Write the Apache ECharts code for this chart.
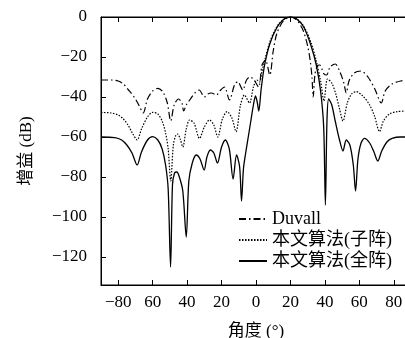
<!DOCTYPE html>
<html><head><meta charset="utf-8">
<script src="https://cdn.jsdelivr.net/npm/echarts@6/dist/echarts.min.js"></script>
<style>html,body{margin:0;padding:0;background:#fff}#c{width:405px;height:338px}</style>
</head><body><div id="c"></div>
<script>
const xTicks = [-80, -60, -40, -20, 0, 20, 40, 60, 80];
const xTickLabels = ['−80', '60', '40', '20', '0', '20', '40', '60', '80'];
const yTicks = [0, -20, -40, -60, -80, -100, -120];
const yTickLabels = ['0', '−20', '−40', '−60', '−80', '−100', '−120'];
const seriesNames = ['Duvall', '本文算法(子阵)', '本文算法(全阵)'];

const duvallAngle = [-90,-84,-80,-77,-74,-70,-67.5,-65.5,-63,-60,-57,-54,-51.5,-49.5,-47.5,-45,-43,-42,-40.5,-38.5,-35.5,-33,-30,-28,-26,-23,-20.5,-18.3,-15.4,-12.5,-10.6,-7.7,-5.5,-3.5,-1.5,1.5,3.5,5.5,8,10,12,15,17.5,20,22.5,25,27.5,30,31.5,32.5,33.2,34.2,35.5,37,39.5,41,43,46,49,51,52.4,54,57,61,65,69,72.7,75,79,84,90];
const duvallGain = [-31.5,-31.5,-32,-33.5,-36.5,-41,-45,-48,-41,-37,-35.7,-37.5,-43,-52,-44,-41,-43,-47,-44,-41.5,-38,-36.5,-40,-38.5,-38,-39,-36.5,-35,-41.5,-34,-32.3,-36.5,-31.5,-30,-31,-35,-24,-21.5,-29,-17,-8.5,-3,-0.7,0,-0.7,-3,-7,-14.5,-22,-30,-40,-29,-24.5,-24,-28.5,-29,-25,-23.5,-28,-33,-38,-32,-28,-27,-30,-36,-43,-37,-33.5,-32,-31.5];

const subAngle = [-90,-84,-80,-77,-74,-71.5,-69,-66.5,-63,-60,-57,-54.5,-52.5,-51,-49.5,-48,-46.5,-45.5,-44,-42.5,-40.5,-38.6,-36,-32.8,-30,-27,-24.5,-22.2,-19.5,-16.8,-14,-11.6,-9,-6.7,-3.8,-1.5,0.5,2,3.5,5,8,12,16,20,24,28,32,35,37.5,39.5,41.5,44,46.5,48.5,50.5,53,55.5,58.2,62,66,69,71.7,74,77.5,82,90];
const subGain = [-47.7,-48,-49,-51,-54.5,-58.5,-61.5,-56,-50,-47.7,-48.5,-52,-58,-66,-82,-64,-59,-58.5,-61,-65,-56,-51.5,-53,-60.7,-55,-51.5,-54,-60,-51,-47.3,-50.5,-57.3,-44,-39,-43,-35,-31.5,-32.5,-27,-22,-12.5,-5,-1.2,0,-1.2,-5,-13,-22,-32,-42,-31,-33,-39,-46,-52,-43,-38.5,-37.3,-39.5,-44,-50,-57.3,-52,-48.5,-47.3,-47];

const fullAngle = [-90,-82,-78,-75,-72,-69,-66.5,-63,-60,-57,-54.5,-52.5,-51,-49.6,-48.5,-47.3,-46,-44.5,-42.5,-40.5,-39,-37,-34.7,-32.5,-30.1,-28.5,-26.5,-24.5,-22.4,-20,-17.8,-15.5,-13.3,-11.3,-9.5,-8.4,-7.3,-6,-4.5,-3,-1.5,-0.3,0.8,1.6,3,5,8,12,16,20,24,28,32,35,37.5,39.3,40.3,41.2,42.2,44,46,48.5,50.5,52.4,54.5,56.5,57.8,59.2,61,63,66,68.5,70.7,73,76,79,84,90];
const fullGain = [-60,-60.3,-61.5,-64,-68,-74,-67.5,-61.5,-59.8,-61.5,-66,-74,-86,-125,-84,-78,-77.5,-80,-87,-110,-82,-73,-69,-71,-76.5,-70,-66.5,-68,-73,-65,-61.5,-66,-81,-69,-75,-92,-76,-68,-60,-52,-44,-39.5,-43,-47,-36,-24,-13.5,-5.5,-1.3,0,-1.3,-5.5,-14.5,-24,-37,-55,-94,-52,-41,-44,-52,-61.5,-67,-61.5,-64,-74,-87,-71,-63,-60.7,-63,-67.5,-72,-67,-62.5,-60.7,-60,-60];

const zip = (a, b) => a.map((v, i) => [v, b[i]]);
const serif = "'Liberation Serif', 'Noto Sans CJK SC', serif";
const chart = echarts.init(document.getElementById('c'), null, {renderer: 'canvas'});
const axisLineStyle = {show: true, onZero: false, lineStyle: {color: '#000', width: 1}};
chart.setOption({
  animation: false,
  backgroundColor: '#fff',
  grid: {left: 101, top: 17, width: 310, height: 268, containLabel: false, outerBoundsMode: 'none',
         show: true, borderColor: '#000', borderWidth: 1, backgroundColor: 'transparent'},
  legend: {
    orient: 'vertical', left: 233, top: 205, itemWidth: 28, itemHeight: 14, itemGap: 3,
    data: seriesNames,
    itemStyle: {color: 'rgba(0,0,0,0)', borderColor: 'rgba(0,0,0,0)', borderWidth: 0},
    textStyle: {fontFamily: serif, fontSize: 18, color: '#000', lineHeight: 18}
  },
  xAxis: [{
    type: 'value', gridIndex: 0, min: -90, max: 90, position: 'bottom',
    name: '角度 (°)', nameLocation: 'middle', nameGap: 38,
    nameTextStyle: {fontFamily: serif, fontSize: 17, color: '#000'},
    axisLine: axisLineStyle,
    axisTick: {show: true, inside: true, length: 5, customValues: xTicks, lineStyle: {color: '#000'}},
    axisLabel: {show: true, customValues: xTicks, margin: 9, fontFamily: serif, fontSize: 17, color: '#000',
      formatter: v => xTickLabels[xTicks.indexOf(v)]},
    splitLine: {show: false}
  }, {
    type: 'value', gridIndex: 0, min: -90, max: 90, position: 'bottom',
    axisLine: {show: true, onZero: true, lineStyle: {color: '#000', width: 1}},
    axisTick: {show: true, inside: false, length: 5, customValues: xTicks, lineStyle: {color: '#000'}},
    axisLabel: {show: false},
    splitLine: {show: false}
  }],
  yAxis: [{
    type: 'value', gridIndex: 0, min: -134, max: 0, position: 'left',
    name: '增益 (dB)', nameLocation: 'middle', nameGap: 66, nameRotate: 90,
    nameTextStyle: {fontFamily: serif, fontSize: 17, color: '#000'},
    axisLine: axisLineStyle,
    axisTick: {show: true, inside: true, length: 5, customValues: yTicks, lineStyle: {color: '#000'}},
    axisLabel: {show: true, customValues: yTicks, margin: 14, fontFamily: serif, fontSize: 17, color: '#000',
      formatter: v => yTickLabels[yTicks.indexOf(v)]},
    splitLine: {show: false}
  }],
  series: [
    {name: seriesNames[0], type: 'line', xAxisIndex: 1, yAxisIndex: 0, data: zip(duvallAngle, duvallGain), symbol: 'none', smooth: 0.3,
     lineStyle: {color: '#000', width: 1.2, type: [7, 3, 1.5, 3]}, itemStyle: {color: '#000'}},
    {name: seriesNames[1], type: 'line', xAxisIndex: 0, yAxisIndex: 0, data: zip(subAngle, subGain), symbol: 'none', smooth: 0.3,
     lineStyle: {color: '#000', width: 1.2, type: [1.5, 1.5]}, itemStyle: {color: '#000'}},
    {name: seriesNames[2], type: 'line', xAxisIndex: 0, yAxisIndex: 0, data: zip(fullAngle, fullGain), symbol: 'none', smooth: 0.3,
     lineStyle: {color: '#000', width: 1.3, type: 'solid'}, itemStyle: {color: '#000'},
     markLine: {silent: true, symbol: 'none', label: {show: false}, animation: false,
       lineStyle: {color: '#000', width: 1, type: 'solid'}, data: [{yAxis: 0}]}}
  ]
});
</script></body></html>
